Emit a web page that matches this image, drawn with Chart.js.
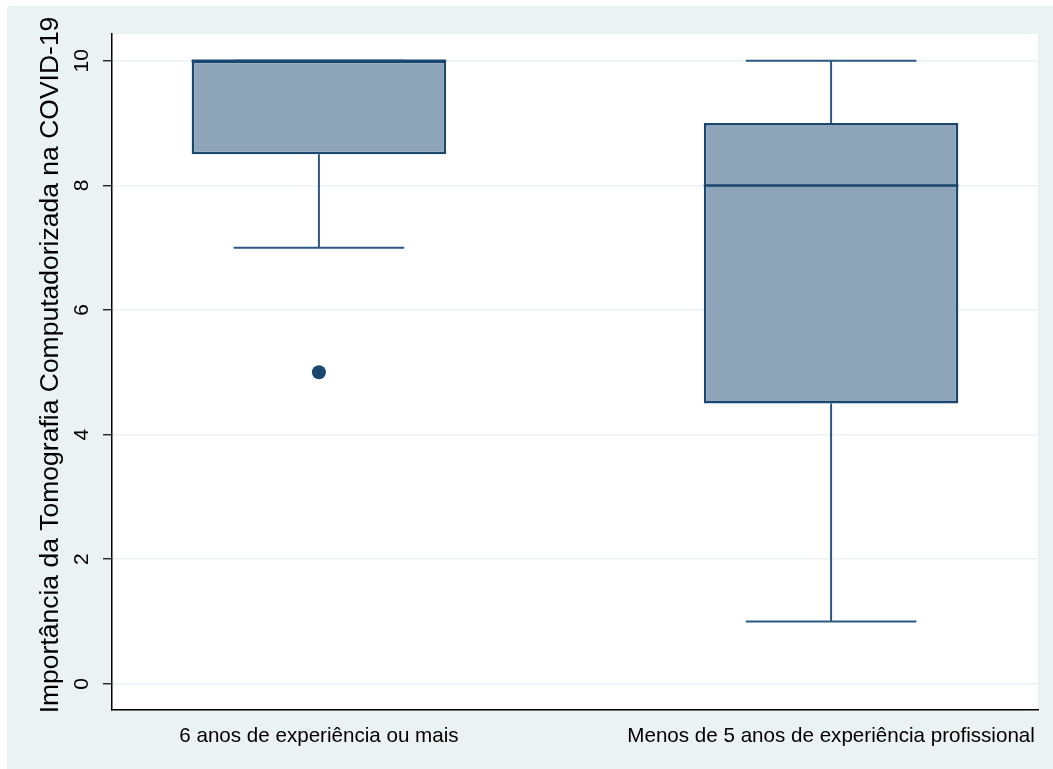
<!DOCTYPE html>
<html>
<head>
<meta charset="utf-8">
<script src="https://cdn.jsdelivr.net/npm/chart.js@4.4.0/dist/chart.umd.min.js"></script>
<style>
  html, body { margin: 0; padding: 0; background: #eaf2f3; overflow: hidden; }
  #wrap { position: absolute; left: 0; top: 0; width: 1053px; height: 769px; }
</style>
</head>
<body>
<div id="wrap"><canvas id="boxChart"></canvas></div>
<script>
// box plot summary per group
const groups = ['6 anos de experiência ou mais', 'Menos de 5 anos de experiência profissional'];
const groupPos = [1, 2];
const lowerWhisker = [7, 1];
const q1 = [8.5, 4.5];
const medians = [10, 8];
const q3 = [10, 9];
const upperWhisker = [10, 10];
const outliers = [{ x: 1, y: 5 }];
const yTicks = [0, 2, 4, 6, 8, 10];
const yTitle = 'Importância da Tomografia Computadorizada na COVID-19';

const navy = '#1a476f';
const fontFamily = "'Liberation Sans', Arial, sans-serif";

const boxParts = {
    id: 'boxParts',
    beforeDraw(chart) {
        const ctx = chart.ctx;
        const a = chart.chartArea;
        ctx.save();
        // white outer margin top/left, light panel everywhere else
        ctx.fillStyle = '#ffffff';
        ctx.fillRect(0, 0, 7, 2000);
        ctx.fillRect(0, 0, 2000, 6);
        ctx.fillStyle = '#eaf2f3';
        ctx.fillRect(7, 6, 2000, 2000);
        ctx.fillStyle = '#ffffff';
        ctx.fillRect(a.left, a.top, a.right - a.left, a.bottom - a.top);
        ctx.restore();
    },
    beforeDatasetsDraw(chart) {
        // whiskers + caps
        const ctx = chart.ctx;
        const y = chart.scales.y;
        const bars = chart.getDatasetMeta(0).data;
        ctx.save();
        ctx.strokeStyle = '#2b5883';
        ctx.lineWidth = 2;
        bars.forEach((bar, i) => {
            const half = bar.width * 0.335;
            const yLo = y.getPixelForValue(lowerWhisker[i]);
            const yHi = y.getPixelForValue(upperWhisker[i]);
            ctx.beginPath();
            ctx.moveTo(bar.x, y.getPixelForValue(q1[i]));
            ctx.lineTo(bar.x, yLo);
            ctx.moveTo(bar.x - half, yLo);
            ctx.lineTo(bar.x + half, yLo);
            ctx.moveTo(bar.x, y.getPixelForValue(q3[i]));
            ctx.lineTo(bar.x, yHi);
            ctx.moveTo(bar.x - half, yHi);
            ctx.lineTo(bar.x + half, yHi);
            ctx.stroke();
        });
        ctx.restore();
    },
    afterDatasetsDraw(chart) {
        // median lines on top of the boxes
        const ctx = chart.ctx;
        const y = chart.scales.y;
        const bars = chart.getDatasetMeta(0).data;
        ctx.save();
        ctx.strokeStyle = navy;
        ctx.lineWidth = 2.5;
        bars.forEach((bar, i) => {
            const py = y.getPixelForValue(medians[i]);
            ctx.beginPath();
            ctx.moveTo(bar.x - bar.width / 2, py);
            ctx.lineTo(bar.x + bar.width / 2, py);
            ctx.stroke();
        });
        ctx.restore();
    },
    afterDraw(chart) {
        const ctx = chart.ctx;
        const y = chart.scales.y;
        ctx.save();
        ctx.fillStyle = '#000000';
        ctx.textAlign = 'center';
        ctx.textBaseline = 'middle';
        // rotated y tick labels, stata style
        ctx.font = '21px ' + fontFamily;
        yTicks.forEach(v => {
            ctx.save();
            ctx.translate(82, y.getPixelForValue(v));
            ctx.rotate(-Math.PI / 2);
            ctx.fillText(String(v), 0, 0);
            ctx.restore();
        });
        // axis title
        ctx.font = '26.5px ' + fontFamily;
        ctx.translate(51, 365);
        ctx.rotate(-Math.PI / 2);
        ctx.fillText(yTitle, 0, 0);
        ctx.restore();
    }
};

new Chart(document.getElementById('boxChart'), {
    type: 'bar',
    data: {
        datasets: [
            {
                type: 'bar',
                data: groupPos.map((p, i) => ({ x: p, y: [q1[i], q3[i]] })),
                backgroundColor: '#8ea4b8',
                borderColor: navy,
                borderWidth: 2.5,
                borderSkipped: false,
                categoryPercentage: 1,
                barPercentage: 0.497
            },
            {
                type: 'scatter',
                data: outliers,
                pointRadius: 7,
                pointBackgroundColor: navy,
                pointBorderWidth: 0
            }
        ]
    },
    options: {
        responsive: true,
        maintainAspectRatio: false,
        animation: false,
        layout: { padding: { top: 34, right: 15, left: 0, bottom: 0 } },
        plugins: { legend: { display: false }, tooltip: { enabled: false } },
        scales: {
            x: {
                type: 'linear',
                offset: false,
                min: 0.596,
                max: 2.404,
                afterBuildTicks: scale => { scale.ticks = groupPos.map(v => ({ value: v })); },
                afterFit: scale => { scale.height = 59; scale.paddingLeft = 0; scale.paddingRight = 0; },
                grid: { display: false, drawTicks: false },
                border: { display: true, color: '#000000', width: 1.5 },
                ticks: {
                    padding: 14,
                    color: '#000000',
                    font: { family: fontFamily, size: 20.6 },
                    maxRotation: 0,
                    callback: v => groups[groupPos.indexOf(v)]
                }
            },
            y: {
                min: -0.42,
                max: 10.43,
                afterBuildTicks: scale => { scale.ticks = yTicks.map(v => ({ value: v })); },
                afterFit: scale => { scale.width = 112; scale.paddingTop = 0; scale.paddingBottom = 0; },
                grid: { color: '#eaf2f3', lineWidth: 1.5, tickColor: '#000000', tickLength: 9, tickWidth: 1.2 },
                border: { display: true, color: '#000000', width: 1.5 },
                ticks: { display: true, color: 'rgba(0,0,0,0)', font: { family: fontFamily, size: 21 } }
            }
        }
    },
    plugins: [boxParts]
});
</script>
</body>
</html>
